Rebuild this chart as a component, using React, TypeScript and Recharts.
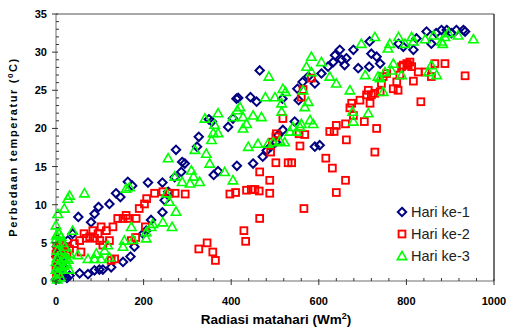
import React from 'react';
import { ScatterChart, Scatter, XAxis, YAxis, Legend, ReferenceLine } from 'recharts';

// Hari ke-1 (diamonds)
const day1X = [0, 2, 4, 5, 8, 10, 12, 15, 18, 20, 22, 25, 3, 6, 1, 7,
  31, 54, 73, 88, 99, 107, 126, 153, 170, 179, 199, 206, 217, 243, 248, 256, 271, 286, 294,
  15, 27, 38, 51, 80, 88, 97, 122, 137, 147, 164, 174, 210, 243, 274, 288, 322, 326, 349, 356,
  360, 370, 393, 404, 412, 416, 413, 450, 444, 458, 465, 472, 481, 490, 502, 507, 518, 517,
  545, 551, 554, 563, 576, 591, 602, 591, 606, 621, 633, 637, 648, 652, 659, 663, 679, 690,
  716, 715, 720, 732, 740, 782, 793, 816, 823, 846, 857, 868, 880, 892, 903, 914, 930, 934];
const day1Y = [0.2, 4.5, 3.8, 1, 0.5, 4, 3, 2, 0.8, 4.4, 0.6, 0.4, 2.5, 1.5, 3.2, 0.3,
  0.7, 1, 0.9, 1.4, 1.5, 1.5, 1.8, 2.5, 3.2, 4.5, 6.2, 6.6, 8, 9, 10.6, 11.7, 13.6, 14.3, 15.4,
  4, 5.3, 6.2, 8.4, 7.7, 8.8, 9.7, 10.1, 11.5, 11, 13, 12.5, 12.9, 12.9, 17.2, 15.6, 17.6, 18.9, 21.2, 20.9,
  13.9, 14.4, 20.2, 21.3, 23.9, 24, 15.1, 15.4, 24.1, 23.5, 27.6, 16.3, 17.1, 17.6, 18.2, 19.1, 19.8, 23.9,
  20.9, 25.2, 23.7, 26.1, 26.8, 17.6, 17.8, 25.9, 27.2, 28.1, 28.7, 29.6, 30.3, 29, 28.3, 29.2, 30.3, 27.9,
  31.4, 28.1, 29.8, 29.4, 28.5, 31.1, 30.7, 30.3, 31.8, 32.7, 31.1, 32.5, 32.9, 32.9, 32.5, 32.9, 32.9, 32.7];

// Hari ke-2 (squares)
const day2X = [0, 2, 5, 8, 10, 12, 15, 18, 20, 3, 6, 1, 0, 25,
  31, 42, 54, 57, 64, 69, 77, 84, 88, 96, 100, 103, 107, 115, 122, 126, 134, 130, 141, 153,
  160, 164, 183, 172, 182, 190, 202, 207, 204, 225, 244, 259, 272, 295, 326, 345, 358, 364,
  397, 410, 429, 433, 435, 446, 454, 464, 465, 465, 488, 488, 490, 494, 502, 503, 502, 518,
  530, 538, 555, 557, 560, 564, 566, 568, 583, 616, 625, 631, 635, 640, 640, 661, 663, 661,
  671, 675, 679, 694, 704, 709, 713, 717, 720, 728, 732, 728, 740, 743, 747, 755, 770, 778,
  781, 785, 789, 793, 801, 804, 808, 812, 816, 827, 833, 843, 857, 865, 888, 934];
const day2Y = [3.5, 4.5, 4, 3, 4.8, 3.8, 4.2, 3, 4.5, 2.5, 4, 0.5, 1.5, 3.6,
  4.2, 4.9, 5.3, 3.8, 6.2, 5.6, 5.8, 6.6, 5.6, 6.2, 5.3, 7.1, 4.7, 6.6, 5.3, 2.7, 2.9, 7.1, 8.2, 8.2,
  8.6, 8.2, 8.2, 5.3, 5.7, 9.5, 10.1, 10.8, 7.1, 11.5, 11.7, 11.5, 11.5, 11.4, 4.2, 5, 3.8, 2.7,
  11.4, 11.6, 6.6, 5.2, 11.9, 12, 12, 11.8, 8.2, 14.3, 11.5, 13.2, 16.9, 18.2, 18.9, 19.3, 15.5, 21.3,
  15.5, 15.5, 19.3, 17.7, 24.1, 25.1, 9.5, 19.2, 26.6, 16.1, 19.6, 14.8, 19.6, 20.4, 11.6, 13.2, 18.5, 20.6,
  22.7, 23.3, 21.7, 23.7, 20.9, 24.4, 25, 23.3, 24.4, 16.9, 20, 24.6, 24.8, 25.9, 26.8, 27.2, 25.2, 26.1,
  25, 27, 28.1, 28.3, 28.5, 28.3, 28.7, 28.1, 26.2, 27.4, 23.5, 27.4, 26.8, 28.5, 28.5, 26.9];

// Hari ke-3 (triangles)
const day3X = [0, 0, 0, 2, 3, 4, 5, 6, 8, 10, 12, 14, 15, 16, 18, 20, 1, 0, 7, 10, 22, 25, 28, 3, 9, 30, 12,
  4, 0, 19, 27, 31, 65, 38, 31, 50, 73, 88, 92, 103, 111, 118, 122, 153, 156, 160, 168, 172, 176,
  206, 206, 217, 221, 244, 252, 256, 259, 265, 274, 271, 288, 309, 306, 314, 317, 328, 340, 343,
  351, 355, 359, 362, 370, 370, 385, 404, 404, 414, 420, 427, 427, 435, 439, 450, 461, 469, 478,
  486, 484, 496, 500, 511, 515, 515, 518, 524, 522, 534, 541, 549, 557, 560, 564, 568, 572, 576,
  580, 583, 587, 583, 606, 625, 640, 671, 677, 679, 697, 706, 713, 728, 735, 740, 747, 751, 758,
  762, 766, 770, 782, 789, 797, 812, 816, 843, 850, 857, 862, 869, 880, 883, 888, 896, 918, 953];
const day3Y = [0.5, 1.5, 2.5, 3, 4, 5, 2, 1, 3.5, 2.5, 4, 1.5, 3, 5, 2, 4.5, 6, 5.5, 6.2, 0.5, 3, 2.2, 2.8, 0.2, 1.8, 1.5, 5.8,
  8.8, 7.3, 9.5, 10.8, 11.2, 11.5, 6.6, 3.6, 3.4, 2.9, 2.9, 3.6, 2.9, 4, 4.7, 3.1, 4.5, 5.3, 12.1, 12.3, 7.1, 5.4,
  5.6, 6.4, 7.1, 7.5, 7.7, 11.5, 16.1, 10.4, 7.1, 9.1, 13.7, 13, 14.5, 12.8, 13.7, 17.2, 13, 21.3, 16.7,
  15.4, 18.5, 19.4, 20.5, 19.4, 22, 14.3, 13.2, 21.5, 22.4, 22.8, 21.5, 20, 20.6, 17.6, 21.7, 18, 21.5, 24.1,
  26.8, 18, 18.2, 24.1, 18.4, 22.2, 23.3, 25.2, 24.8, 18.2, 19.6, 20.2, 19.6, 20.2, 20.6, 25, 22.8, 28.1, 23.5,
  21.1, 29.4, 20.6, 27.4, 28.7, 26.8, 25.9, 25, 22.2, 20.9, 31.1, 27, 22, 32, 26.8, 26.6, 24.8, 27.4, 30.5,
  31.1, 27.6, 28.5, 32, 27, 31.1, 32, 31.4, 31.7, 27.4, 28.3, 32.2, 27, 31.4, 31.1, 32, 32.5, 32.2, 31.7];

const xTicks = Array.from({ length: 26 }, (_, i) => i * 40);
const yTicks = Array.from({ length: 36 }, (_, i) => i);

const zip = (xs: number[], ys: number[]) => xs.map((x, i) => ({ x, y: ys[i] }));
const day1 = zip(day1X, day1Y);
const day2 = zip(day2X, day2Y);
const day3 = zip(day3X, day3Y);

const AXIS = '#6e6e6e';
const TICK_FONT = { fontFamily: 'Liberation Sans, Arial, sans-serif', fontSize: 11, fontWeight: 700 };

const Diamond = ({ cx, cy }: any) => (
  <polygon
    points={`${cx},${cy - 4.2} ${cx + 4.2},${cy} ${cx},${cy + 4.2} ${cx - 4.2},${cy}`}
    fill="none" stroke="#000080" strokeWidth={2}
  />
);
const Square = ({ cx, cy }: any) => (
  <rect x={cx - 3.4} y={cy - 3.4} width={6.8} height={6.8} fill="none" stroke="#ff0000" strokeWidth={1.9} />
);
const Triangle = ({ cx, cy }: any) => (
  <polygon
    points={`${cx},${cy - 4.6} ${cx + 4.7},${cy + 3.6} ${cx - 4.7},${cy + 3.6}`}
    fill="none" stroke="#00ff00" strokeWidth={1.6}
  />
);

const XTick = ({ x, y, payload }: any) => {
  const major = payload.value % 200 === 0;
  return (
    <g>
      {major
        ? <line x1={x} y1={y - 2} x2={x} y2={y + 4} stroke="#333" />
        : <line x1={x} y1={y - 3} x2={x} y2={y} stroke="#333" />}
      {major && (
        <text x={x} y={y + 24} textAnchor="middle" fill="#000" style={TICK_FONT}>{payload.value}</text>
      )}
    </g>
  );
};

const YTick = ({ x, y, payload }: any) => {
  const major = payload.value % 5 === 0;
  return (
    <g>
      {major
        ? <line x1={x - 4} y1={y} x2={x + 2} y2={y} stroke="#333" />
        : <line x1={x} y1={y} x2={x + 3} y2={y} stroke="#333" />}
      {major && (
        <text x={x - 9} y={y + 4} textAnchor="end" fill="#000" style={TICK_FONT}>{payload.value}</text>
      )}
    </g>
  );
};

const YTitle = () => (
  <text
    x={17} y={147} transform="rotate(-90 17 147)" textAnchor="middle"
    style={{ ...TICK_FONT, fontSize: 11, letterSpacing: 1.6 }} fill="#000"
  >
    Perbedaan temperatur (<tspan dy={-4} fontSize={8}>0</tspan><tspan dy={4}>C)</tspan>
  </text>
);

const XTitle = () => (
  <text x={276} y={324} textAnchor="middle" style={{ ...TICK_FONT, fontSize: 13.5, letterSpacing: 0 }} fill="#000">
    Radiasi matahari (Wm<tspan dy={-5} fontSize={9}>2</tspan><tspan dy={5}>)</tspan>
  </text>
);

const legendItems = [
  { name: 'Hari ke-1', Shape: Diamond },
  { name: 'Hari ke-2', Shape: Square },
  { name: 'Hari ke-3', Shape: Triangle },
];

const LegendBox = () => (
  <div>
    {legendItems.map(({ name, Shape }) => (
      <div key={name} style={{ display: 'flex', alignItems: 'center', height: 22 }}>
        <svg width={14} height={14} style={{ marginRight: 2 }}>
          <Shape cx={7} cy={7} />
        </svg>
        <span style={{ fontFamily: 'Liberation Sans, Arial, sans-serif', fontSize: 14.5, color: '#222' }}>{name}</span>
      </div>
    ))}
  </div>
);

export default function App() {
  return (
    <div style={{ position: 'absolute', left: 0, top: 0 }}>
      <ScatterChart width={506} height={329} margin={{ top: 14, right: 12, bottom: 18, left: 10 }}>
        <XAxis
          type="number" dataKey="x" domain={[0, 1000]} ticks={xTicks} interval={0}
          axisLine={{ stroke: AXIS }} tickLine={false} tickSize={0} tickMargin={0}
          tick={<XTick />} height={30} label={<XTitle />}
        />
        <YAxis
          type="number" dataKey="y" domain={[0, 35]} ticks={yTicks} interval={0}
          axisLine={{ stroke: AXIS }} tickLine={false} tickSize={0} tickMargin={0}
          tick={<YTick />} width={46} label={<YTitle />}
        />
        <ReferenceLine y={35} stroke="#555" strokeWidth={1.2} />
        <ReferenceLine x={1000} stroke="#111" strokeWidth={1.2} />
        <Scatter name="Hari ke-1" data={day1} shape={<Diamond />} isAnimationActive={false} />
        <Scatter name="Hari ke-2" data={day2} shape={<Square />} isAnimationActive={false} />
        <Scatter name="Hari ke-3" data={day3} shape={<Triangle />} isAnimationActive={false} />
        <Legend
          layout="vertical" align="center" verticalAlign="middle"
          wrapperStyle={{ left: 395, top: 201, width: 'auto', height: 'auto' }}
          content={<LegendBox />}
        />
      </ScatterChart>
    </div>
  );
}
